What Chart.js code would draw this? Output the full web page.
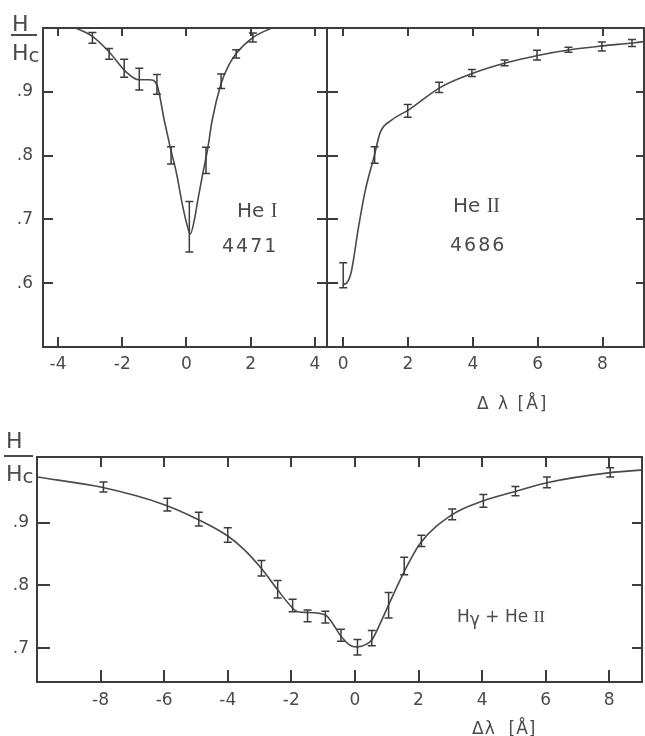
<!DOCTYPE html>
<html><head><meta charset="utf-8">
<script src="https://cdn.jsdelivr.net/npm/chart.js@4/dist/chart.umd.min.js"></script>
<style>
html,body{margin:0;padding:0;background:#fff;}
body{width:645px;height:736px;position:relative;overflow:hidden;font-family:"DejaVu Sans",sans-serif;color:#4a4a4a;}
canvas{position:absolute;left:0;top:0;pointer-events:none;}
.t{position:absolute;white-space:nowrap;line-height:1;}
.bar{position:absolute;height:2px;background:#4a4a4a;}
.r{font-family:"Liberation Serif",serif;}
</style></head><body>
<canvas id="cA" width="645" height="736"></canvas>
<canvas id="cB" width="645" height="736"></canvas>
<canvas id="cC" width="645" height="736"></canvas>

<div class="t" style="left:12px;top:13px;font-size:22px;">H</div>
<div class="bar" style="left:11px;top:34px;width:26px;"></div>
<div class="t" style="left:12px;top:42px;font-size:22px;">H<span style="font-size:20px;position:relative;top:2px;">c</span></div>

<div class="t" style="left:6px;top:430px;font-size:22px;">H</div>
<div class="bar" style="left:4px;top:455px;width:29px;"></div>
<div class="t" style="left:6px;top:463px;font-size:22px;">H<span style="font-size:20px;position:relative;top:2px;">c</span></div>

<div class="t" style="left:237px;top:200px;font-size:20px;">He <span class="r">I</span></div>
<div class="t" style="left:222px;top:236px;font-size:19px;letter-spacing:2px;">4471</div>
<div class="t" style="left:453px;top:195px;font-size:20px;">He <span class="r">II</span></div>
<div class="t" style="left:450px;top:235px;font-size:19px;letter-spacing:2px;">4686</div>
<div class="t" style="left:457px;top:608px;font-size:17px;">H<span style="position:relative;top:3px;">γ</span> + He <span class="r">II</span></div>
<div class="t" style="left:477px;top:395px;font-size:17px;letter-spacing:2px;">Δ λ [Å]</div>
<div class="t" style="left:472px;top:720px;font-size:17px;letter-spacing:1px;">Δλ&nbsp;&nbsp;[Å]</div>

<script>
// ---- He I 4471 (top left) ----
const heI_curveX = [-3.45,-2.93,-2.4,-1.9,-1.5,-1.15,-0.92,-0.69,-0.51,-0.3,-0.15,0.0,0.12,0.25,0.35,0.51,0.67,0.8,1.08,1.3,1.55,2.07,2.65];
const heI_curveY = [1.0,0.987,0.962,0.932,0.919,0.919,0.911,0.855,0.814,0.77,0.729,0.695,0.677,0.70,0.729,0.772,0.813,0.855,0.913,0.94,0.96,0.985,1.0];
const heI_errX  = [-2.93,-2.41,-1.94,-1.47,-0.92,-0.48,0.09,0.61,1.08,1.55,2.07];
const heI_errLo = [0.976,0.951,0.923,0.903,0.896,0.787,0.649,0.772,0.905,0.953,0.978];
const heI_errHi = [0.993,0.968,0.951,0.937,0.927,0.814,0.728,0.813,0.928,0.966,0.992];
const heI_xTicks = [-4,-2,0,2,4];

// ---- He II 4686 (top right) ----
const heII_curveX = [0,0.12,0.25,0.47,0.68,0.96,1.14,1.5,2,3,4,5,6,7,8,9,9.3];
const heII_curveY = [0.598,0.601,0.618,0.687,0.745,0.80,0.836,0.856,0.871,0.907,0.929,0.945,0.957,0.966,0.972,0.977,0.979];
const heII_errX  = [0.0,0.97,1.99,2.96,3.97,4.98,5.98,6.95,7.98,8.91];
const heII_errLo = [0.593,0.788,0.860,0.899,0.924,0.941,0.950,0.962,0.964,0.971];
const heII_errHi = [0.632,0.814,0.880,0.915,0.935,0.950,0.965,0.970,0.978,0.982];
const heII_xTicks = [0,2,4,6,8];

const top_yTicks = [0.6,0.7,0.8,0.9];

// ---- H gamma + He II (bottom) ----
const hg_curveX = [-10,-8,-6,-5,-4,-3.5,-2.94,-2.43,-1.96,-1.8,-1.49,-0.93,-0.67,-0.44,-0.09,0.08,0.35,0.53,0.8,1.06,1.55,2.05,3.06,4.04,5.05,6.04,8.03,9];
const hg_curveY = [0.973,0.957,0.929,0.907,0.879,0.858,0.827,0.793,0.764,0.758,0.757,0.753,0.737,0.719,0.703,0.702,0.706,0.713,0.74,0.769,0.822,0.867,0.913,0.935,0.950,0.964,0.980,0.984];
const hg_errX  = [-7.91,-5.90,-4.91,-4.0,-2.94,-2.43,-1.96,-1.49,-0.93,-0.44,0.08,0.53,1.06,1.55,2.09,3.06,4.04,5.05,6.04,8.03];
const hg_errLo = [0.949,0.919,0.895,0.869,0.815,0.780,0.758,0.742,0.740,0.711,0.689,0.704,0.748,0.817,0.862,0.905,0.925,0.943,0.956,0.973];
const hg_errHi = [0.965,0.939,0.917,0.892,0.840,0.808,0.778,0.761,0.759,0.730,0.714,0.728,0.789,0.845,0.880,0.922,0.945,0.958,0.973,0.988];
const hg_xTicks = [-8,-6,-4,-2,0,2,4,6,8];
const hg_yTicks = [0.7,0.8,0.9];

const INK = '#3c3c3c';
const TXT = '#4a4a4a';

const framePlugin = {
  id: 'frameTicks',
  afterDraw(chart) {
    const o = chart.options.plugins.frameTicks || {};
    const {ctx, chartArea: a, scales: {x, y}} = chart;
    ctx.save();
    ctx.strokeStyle = INK;
    ctx.lineWidth = 2;
    ctx.lineCap = 'butt';
    ctx.strokeRect(a.left, a.top, a.right - a.left, a.bottom - a.top);
    const L = o.len || {top: 9, bottom: 10, left: 10, right: 10};
    ctx.beginPath();
    x.ticks.forEach(t => {
      const p = Math.round(x.getPixelForValue(t.value));
      ctx.moveTo(p, a.top); ctx.lineTo(p, a.top + L.top);
      ctx.moveTo(p, a.bottom); ctx.lineTo(p, a.bottom - L.bottom);
    });
    y.ticks.forEach(t => {
      const p = Math.round(y.getPixelForValue(t.value));
      ctx.moveTo(a.left, p); ctx.lineTo(a.left + L.left, p);
      ctx.moveTo(a.right, p); ctx.lineTo(a.right - L.right, p);
    });
    ctx.stroke();
    ctx.restore();
  }
};

const errPlugin = {
  id: 'errBars',
  afterDatasetsDraw(chart) {
    const {ctx, scales: {x, y}} = chart;
    ctx.save();
    ctx.strokeStyle = INK;
    ctx.lineWidth = 1.5;
    chart.data.datasets.forEach(ds => {
      if (!ds.errorBars) return;
      ds.data.forEach(p => {
        const px = x.getPixelForValue(p.x);
        const t = y.getPixelForValue(p.hi), b = y.getPixelForValue(p.lo);
        ctx.beginPath();
        ctx.moveTo(px, t); ctx.lineTo(px, b);
        ctx.moveTo(px - 4, t); ctx.lineTo(px + 4, t);
        ctx.moveTo(px - 4, b); ctx.lineTo(px + 4, b);
        ctx.stroke();
      });
    });
    ctx.restore();
  }
};

function makeChart(id, cfg) {
  const W = 645, H = 736, XH = 40;
  const a = cfg.area;
  const font = {family: '"DejaVu Sans", sans-serif', size: 17};
  new Chart(document.getElementById(id), {
    type: 'scatter',
    data: {
      datasets: [
        {
          data: cfg.curveX.map((v, i) => ({x: v, y: cfg.curveY[i]})),
          showLine: true, pointRadius: 0, borderColor: '#4a4a4a', borderWidth: 1.6,
          cubicInterpolationMode: 'monotone', fill: false
        },
        {
          data: cfg.errX.map((v, i) => ({x: v, y: (cfg.errLo[i] + cfg.errHi[i]) / 2, lo: cfg.errLo[i], hi: cfg.errHi[i]})),
          showLine: false, pointRadius: 0, errorBars: true
        }
      ]
    },
    options: {
      responsive: false, animation: false, events: [],
      layout: {padding: {left: cfg.yShow ? 0 : a.left, top: a.top, right: W - a.right, bottom: H - a.bottom - XH}},
      plugins: {legend: {display: false}, tooltip: {enabled: false}, frameTicks: {len: cfg.len}},
      scales: {
        x: {
          type: 'linear', position: 'bottom', min: cfg.xr[0], max: cfg.xr[1],
          afterBuildTicks: s => { s.ticks = cfg.xTicks.map(v => ({value: v})); },
          afterFit: s => { s.height = XH; },
          grid: {display: false, drawTicks: false}, border: {display: false},
          ticks: {padding: cfg.xPad, font, color: TXT, maxRotation: 0, autoSkip: false,
                  callback: v => String(v)}
        },
        y: {
          type: 'linear', position: 'left', min: cfg.yr[0], max: cfg.yr[1],
          afterBuildTicks: s => { s.ticks = cfg.yTicks.map(v => ({value: v})); },
          afterFit: s => { s.width = cfg.yShow ? a.left : 0; },
          grid: {display: false, drawTicks: false}, border: {display: false},
          ticks: {display: cfg.yShow, padding: cfg.yPad, font, color: TXT, autoSkip: false,
                  callback: v => v.toFixed(1).replace(/^0/, '')}
        }
      }
    },
    plugins: [framePlugin, errPlugin]
  });
}

makeChart('cA', {
  area: {left: 43, top: 28, right: 327, bottom: 347},
  xr: [-4.47, 4.38], yr: [0.5, 1.0], xTicks: heI_xTicks, yTicks: top_yTicks,
  curveX: heI_curveX, curveY: heI_curveY, errX: heI_errX, errLo: heI_errLo, errHi: heI_errHi,
  yShow: true, xPad: 7, yPad: 10, len: {top: 8, bottom: 10, left: 10, right: 10}
});
makeChart('cB', {
  area: {left: 327, top: 28, right: 644, bottom: 347},
  xr: [-0.5, 9.28], yr: [0.5, 1.0], xTicks: heII_xTicks, yTicks: top_yTicks,
  curveX: heII_curveX, curveY: heII_curveY, errX: heII_errX, errLo: heII_errLo, errHi: heII_errHi,
  yShow: false, xPad: 7, yPad: 10, len: {top: 8, bottom: 10, left: 11, right: 8}
});
makeChart('cC', {
  area: {left: 37, top: 457, right: 642, bottom: 682},
  xr: [-10, 9.03], yr: [0.646, 1.005], xTicks: hg_xTicks, yTicks: hg_yTicks,
  curveX: hg_curveX, curveY: hg_curveY, errX: hg_errX, errLo: hg_errLo, errHi: hg_errHi,
  yShow: true, xPad: 8, yPad: 8, len: {top: 10, bottom: 12, left: 13, right: 10}
});
</script>
</body></html>
